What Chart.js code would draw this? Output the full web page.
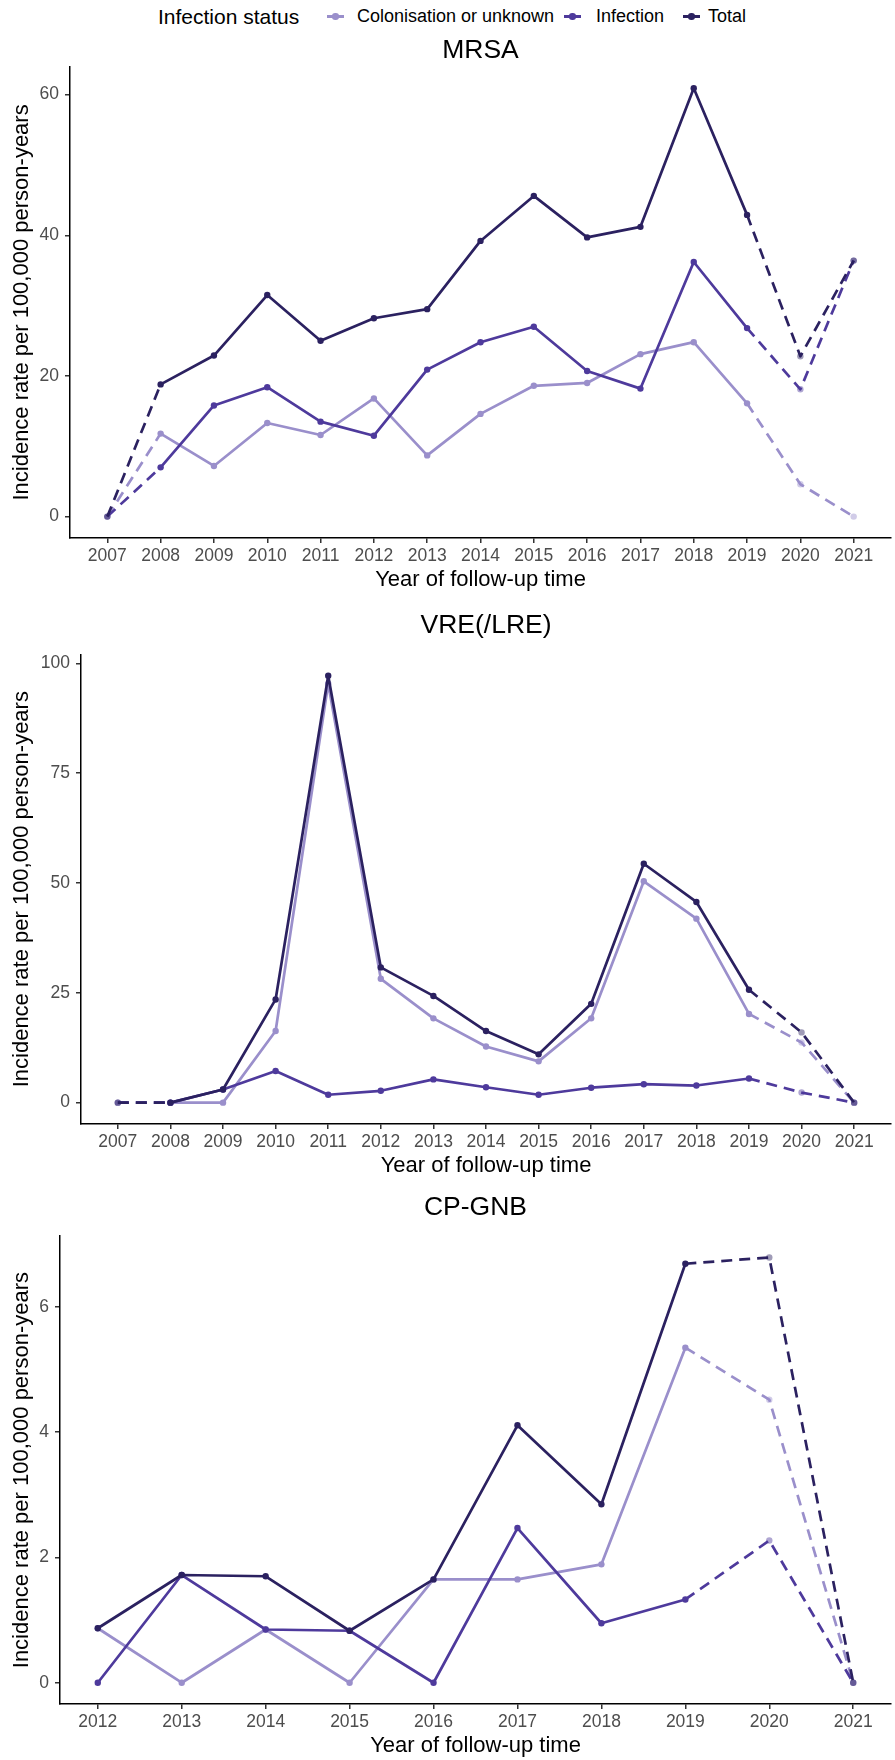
<!DOCTYPE html>
<html>
<head>
<meta charset="utf-8">
<script src="https://cdn.jsdelivr.net/npm/chart.js@4.4.0/dist/chart.umd.min.js"></script>
<style>
  body { margin: 0; background: #fff; width: 895px; height: 1760px; position: relative; overflow: hidden;
         font-family: "Liberation Sans", Arial, sans-serif; }
  .panel { position: absolute; left: 0; }
  #legend { position: absolute; left: 0; top: 0; width: 895px; height: 33px; }
  .lg { position: absolute; top: 0; line-height: 33px; white-space: nowrap; color: #000; }
  .key { position: absolute; top: 15px; width: 17px; height: 2.6px; }
  .key i { position: absolute; left: 5.3px; top: -1.9px; width: 6.4px; height: 6.4px; border-radius: 50%; }
</style>
</head>
<body>
<div id="legend"></div>
<div class="panel" style="top:30px"><canvas id="mrsa" width="895" height="564"></canvas></div>
<div class="panel" style="top:600px"><canvas id="vre" width="895" height="580"></canvas></div>
<div class="panel" style="top:1180px"><canvas id="cpgnb" width="895" height="580"></canvas></div>
<script>
// series
const seriesNames = ['Colonisation or unknown', 'Infection', 'Total'];
const seriesColors = ['#9a8fcb', '#4e3a9c', '#2b2160'];
const seriesFaded = ['rgba(154,143,203,0.45)', 'rgba(78,58,156,0.45)', 'rgba(43,33,96,0.45)'];

// MRSA
const mrsaYears = [2007, 2008, 2009, 2010, 2011, 2012, 2013, 2014, 2015, 2016, 2017, 2018, 2019, 2020, 2021];
const mrsaColonisation = [0, 11.8, 7.2, 13.3, 11.6, 16.8, 8.7, 14.6, 18.6, 19.0, 23.1, 24.8, 16.1, 4.6, 0];
const mrsaInfection = [0, 7.0, 15.8, 18.4, 13.5, 11.5, 20.9, 24.8, 27.0, 20.7, 18.2, 36.2, 26.8, 18.1, 36.4];
const mrsaTotal = [0, 18.8, 22.9, 31.5, 25.0, 28.2, 29.5, 39.2, 45.6, 39.7, 41.2, 60.9, 42.9, 22.8, 36.4];
const mrsaTicks = [0, 20, 40, 60];
const mrsaDashed = [2007, 2020, 2021];

// VRE(/LRE)
const vreYears = [2007, 2008, 2009, 2010, 2011, 2012, 2013, 2014, 2015, 2016, 2017, 2018, 2019, 2020, 2021];
const vreColonisation = [0, 0, 0, 16.3, 95.4, 28.2, 19.2, 12.8, 9.4, 19.2, 50.4, 41.9, 20.2, 13.7, 0];
const vreInfection = [0, 0, 3.0, 7.2, 1.8, 2.7, 5.3, 3.5, 1.8, 3.4, 4.2, 3.9, 5.5, 2.3, 0];
const vreTotal = [0, 0, 3.0, 23.5, 97.2, 30.8, 24.3, 16.3, 11.0, 22.5, 54.4, 45.7, 25.7, 16.0, 0];
const vreTicks = [0, 25, 50, 75, 100];
const vreDashed = [2007, 2020, 2021];

// CP-GNB
const cpYears = [2012, 2013, 2014, 2015, 2016, 2017, 2018, 2019, 2020, 2021];
const cpColonisation = [0.87, 0, 0.85, 0, 1.65, 1.65, 1.89, 5.35, 4.52, 0];
const cpInfection = [0, 1.72, 0.85, 0.83, 0, 2.47, 0.95, 1.33, 2.27, 0];
const cpTotal = [0.87, 1.72, 1.70, 0.83, 1.65, 4.11, 2.85, 6.69, 6.79, 0];
const cpTicks = [0, 2, 4, 6];
const cpDashed = [2020, 2021];

const FONT = '"Liberation Sans", Arial, sans-serif';

// legend (ggplot style, one row)
const legend = document.getElementById('legend');
const keyLeft = [327, 564, 683];
const textLeft = [357, 596, 708];
legend.innerHTML = '<span class="lg" style="left:158px;font-size:21px">Infection status</span>' +
  seriesNames.map((n, k) =>
    '<span class="key" style="left:' + keyLeft[k] + 'px;background:' + seriesColors[k] + '"><i style="background:' + seriesColors[k] + '"></i></span>' +
    '<span class="lg" style="left:' + textLeft[k] + 'px;font-size:18px">' + n + '</span>').join('');

function buildDatasets(years, cols, infs, tots, dashed) {
  return [cols, infs, tots].map((v, k) => ({
    label: seriesNames[k],
    data: years.map((yr, i) => ({ x: yr, y: v[i] })),
    borderColor: seriesColors[k],
    backgroundColor: seriesColors[k],
    pointBackgroundColor: years.map(yr => dashed.includes(yr) ? seriesFaded[k] : seriesColors[k]),
    pointBorderWidth: 0,
    pointRadius: 3.2,
    borderWidth: 2.7,
    borderJoinStyle: 'round',
    order: 2 - k,
    clip: false,
    segment: {
      borderDash: ctx => (dashed.includes(ctx.p0.parsed.x) || dashed.includes(ctx.p1.parsed.x)) ? [11, 7] : undefined
    }
  }));
}

function makeChart(id, title, years, cols, infs, tots, yTicks, dashed, lay) {
  const all = cols.concat(infs, tots);
  const lo = Math.min(...all), hi = Math.max(...all);
  const x0 = years[0], x1 = years[years.length - 1];
  return new Chart(document.getElementById(id), {
    type: 'line',
    data: { datasets: buildDatasets(years, cols, infs, tots, dashed) },
    options: {
      responsive: false,
      animation: false,
      layout: { padding: { left: 0, right: 4, top: 0, bottom: 0 } },
      plugins: {
        legend: { display: false },
        tooltip: { enabled: false },
        title: {
          display: true, text: title, color: '#000', fullSize: false,
          font: { family: FONT, size: 26.5, weight: 'normal' },
          padding: { top: lay.titleTop, bottom: lay.titleBottom }
        }
      },
      scales: {
        x: {
          type: 'linear',
          min: x0 - 0.05 * (x1 - x0), max: x1 + 0.05 * (x1 - x0),
          afterBuildTicks: s => { s.ticks = years.map(v => ({ value: v })); },
          afterFit: s => { s.height = 56; },
          ticks: { color: '#4d4d4d', font: { family: FONT, size: 17.5 }, padding: 3, maxRotation: 0, autoSkip: false,
                   callback: v => String(v) },
          grid: { drawOnChartArea: false, drawTicks: true, tickLength: 5, color: '#333', lineWidth: 1.5 },
          border: { display: true, color: '#000', width: 1.5 },
          title: { display: true, text: 'Year of follow-up time', color: '#000',
                   font: { family: FONT, size: 22 }, padding: { top: 0, bottom: 0.8 } }
        },
        y: {
          min: lo - 0.05 * (hi - lo), max: hi + 0.05 * (hi - lo),
          afterBuildTicks: s => { s.ticks = yTicks.map(v => ({ value: v })); },
          afterFit: s => { s.width = lay.yWidth; },
          ticks: { color: '#4d4d4d', font: { family: FONT, size: 17.5 }, padding: 6 },
          grid: { drawOnChartArea: false, drawTicks: true, tickLength: 5, color: '#333', lineWidth: 1.5 },
          border: { display: true, color: '#000', width: 1.5 },
          title: { display: true, text: 'Incidence rate per 100,000 person-years', color: '#000',
                   font: { family: FONT, size: 22 }, padding: { top: 8.8, bottom: 0 } }
        }
      }
    }
  });
}

makeChart('mrsa', 'MRSA', mrsaYears, mrsaColonisation, mrsaInfection, mrsaTotal, mrsaTicks, mrsaDashed,
  { titleTop: 4.9, titleBottom: 0.2, yWidth: 70 });
makeChart('vre', 'VRE(/LRE)', vreYears, vreColonisation, vreInfection, vreTotal, vreTicks, vreDashed,
  { titleTop: 9.9, titleBottom: 12.7, yWidth: 81 });
makeChart('cpgnb', 'CP-GNB', cpYears, cpColonisation, cpInfection, cpTotal, cpTicks, cpDashed,
  { titleTop: 11.8, titleBottom: 12.6, yWidth: 60 });
</script>
</body>
</html>
